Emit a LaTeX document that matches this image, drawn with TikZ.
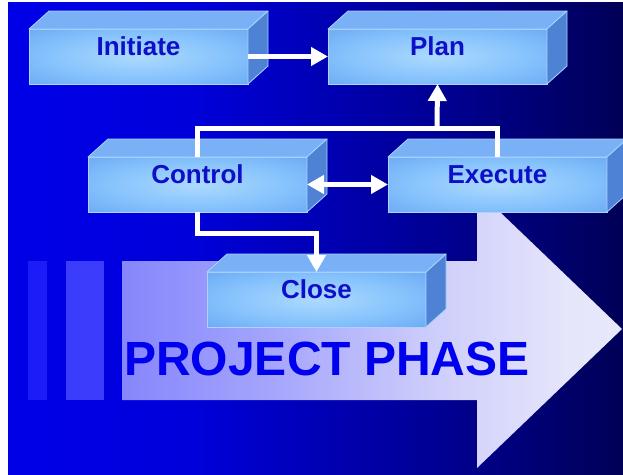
\documentclass[tikz,border=0pt]{standalone}
\usepackage{fontspec}
\setmainfont{Liberation Sans}
\usepackage{xcolor}
\usepackage{tikz}
\usetikzlibrary{positioning,arrows.meta}

\definecolor{bgA}{RGB}{0,0,255}
\definecolor{bgB}{RGB}{0,0,218}
\definecolor{bgC}{RGB}{0,0,140}
\definecolor{bgD}{RGB}{0,0,58}
\definecolor{bgE}{RGB}{0,0,6}
\definecolor{arA}{RGB}{82,82,255}
\definecolor{arB}{RGB}{165,165,252}
\definecolor{arC}{RGB}{205,205,251}
\definecolor{arD}{RGB}{230,230,251}
\definecolor{arE}{RGB}{243,243,253}
\definecolor{stripeA}{RGB}{28,28,248}
\definecolor{stripeB}{RGB}{60,60,252}
\definecolor{faceIn}{RGB}{172,218,255}
\definecolor{faceMid}{RGB}{135,195,252}
\definecolor{faceOut}{RGB}{98,162,242}
\definecolor{topblue}{RGB}{122,176,245}
\definecolor{sideblue}{RGB}{78,130,212}
\definecolor{edgeblue}{RGB}{170,212,255}
\definecolor{boxtext}{RGB}{15,15,200}
\definecolor{phasetext}{RGB}{0,0,238}

\pgfdeclarehorizontalshading{bgshade}{100bp}{color(0bp)=(bgA); color(40bp)=(bgB); color(62bp)=(bgC); color(82bp)=(bgD); color(100bp)=(bgE)}
\pgfdeclarehorizontalshading{phaseshade}{100bp}{color(0bp)=(arA); color(40bp)=(arB); color(56bp)=(arC); color(70bp)=(arD); color(100bp)=(arE)}
\pgfdeclareradialshading{faceglow}{\pgfpoint{0bp}{0bp}}{color(0bp)=(faceIn); color(20bp)=(faceMid); color(42bp)=(faceOut); color(50bp)=(faceOut)}

\begin{document}
\begin{tikzpicture}[x=1pt, y=-1pt,
    phasebox/.style={draw=edgeblue, line width=0.8pt, shade, shading=faceglow,
      minimum width=219pt, minimum height=55pt, inner sep=0pt, outer sep=0pt,
      text height=18pt, text depth=20pt, text=boxtext,
      font=\bfseries\fontsize{26}{30}\selectfont},
    boxtop/.style={fill=topblue, draw=edgeblue, line width=0.8pt, line join=round},
    boxside/.style={fill=sideblue, draw=edgeblue, line width=0.8pt, line join=round},
    flow/.style={draw=white, line width=5pt, -{Triangle[length=17pt,width=18pt]}}]
   \useasboundingbox (0,0) rectangle (623,474);
   \clip (0,0) rectangle (623,474);
   % Background
   \fill[white] (0,0) rectangle (623,474);
   \shade[shading=bgshade] (8,2) rectangle (623,474);
   % Phase arrow with its stripes
   \fill[stripeA] (28,261) rectangle (47,400);
   \fill[stripeB] (66,261) rectangle (104,400);
   \shade[shading=phaseshade] (122,261) -- (477,261) -- (477,190) -- (622,329)
       -- (477,468) -- (477,400) -- (122,400) -- cycle;
   \node[font=\bfseries\fontsize{48}{52}\selectfont, text=phasetext, anchor=base] (title) at (327,375) {PROJECT PHASE};

   % Boxes (front faces)
   \node[phasebox, anchor=north west] (init) at (29,29) {Initiate};
   \node[phasebox, right=80pt of init] (plan) {Plan};
   \node[phasebox, anchor=north west] (ctrl) at (88,157) {Control};
   \node[phasebox, right=81pt of ctrl] (exec) {Execute};
   \node[phasebox, anchor=north west] (close) at (207,272) {Close};
   % top and side faces
   \foreach \b in {init,plan,ctrl,exec,close}{
     \filldraw[boxtop] (\b.north west) -- ++(20,-18) -- ([shift={(20,-18)}]\b.north east) -- (\b.north east) -- cycle;
     \filldraw[boxside] (\b.north east) -- ++(20,-18) -- ([shift={(20,-18)}]\b.south east) -- (\b.south east) -- cycle;
   }

   % Flow between the phases
   \coordinate (join) at (437,128);
   \draw[flow] (init.east) -- (plan.west);
   \draw[white, line width=5pt] (ctrl.north) |- (join) -| (exec.north);
   \draw[flow] (join) -- (plan.south);
   \draw[flow, {Triangle[length=17pt,width=18pt]}-{Triangle[length=17pt,width=18pt]}] (ctrl.east) -- (exec.west);
   \draw[flow] (ctrl.south) -- ++(0,21) -| (close.north);
\end{tikzpicture}
\end{document}
